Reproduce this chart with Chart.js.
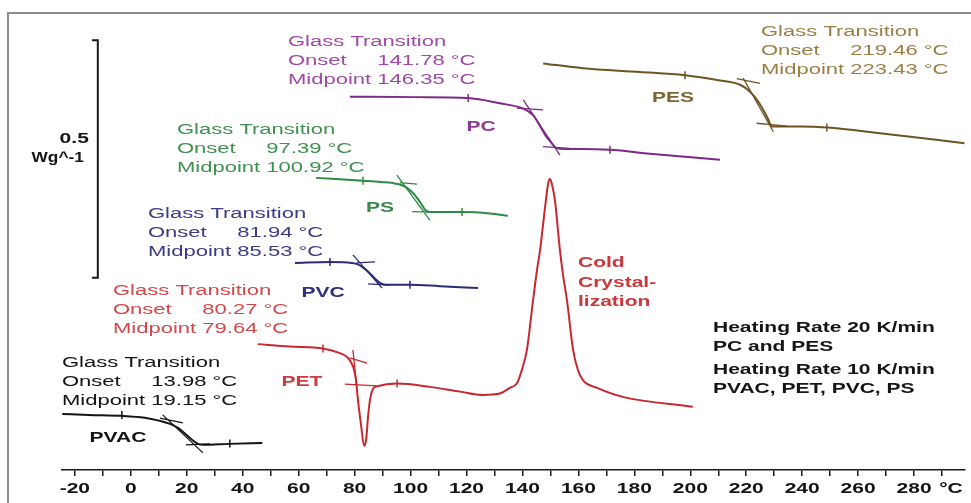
<!DOCTYPE html>
<html>
<head>
<meta charset="utf-8">
<script src="https://cdn.jsdelivr.net/npm/chart.js@4.4.1/dist/chart.umd.min.js"></script>
<style>
    html, body { margin: 0; padding: 0; background: #fff; }
    #dsc { display: block; }
</style>
</head>
<body>
<canvas id="dsc" width="971" height="503"></canvas>
<script>
// DSC heating curves, temperature in °C, heat flow in W/g (curves offset)
const tempTicks = [-20, 0, 20, 40, 60, 80, 100, 120, 140, 160, 180, 200, 220, 240, 260, 280];
const samples = ["PVAC", "PET", "PVC", "PS", "PC", "PES"];
const glassOnset = [13.98, 80.27, 81.94, 97.39, 141.78, 219.46];
const glassMidpoint = [19.15, 79.64, 85.53, 100.92, 146.35, 223.43];

const pvacTemp = [-24.5, -15, -3, 5, 10, 14, 17, 19.5, 22, 24, 26, 35, 47];
const pvacFlow = [0.118, 0.116, 0.114, 0.110, 0.104, 0.097, 0.088, 0.076, 0.063, 0.055, 0.053, 0.055, 0.057];

const petTemp = [45.4, 56.9, 68.7, 74.8, 77.3, 78.7, 79.8, 80.5, 81.2, 82.3, 83.4, 84.1, 84.8, 85.5, 86.6, 88.0,
    95.2, 106.9, 117.7, 125.9, 131.9, 135.5, 138.1, 139.8, 141.6, 143.8, 145.2, 146.3, 148.1, 149.1, 149.8,
    150.6, 151.6, 153.4, 154.5, 155.9, 158.1, 159.8, 161.6, 166.7, 175.9, 200.9];
const petFlow = [0.265, 0.260, 0.256, 0.246, 0.238, 0.227, 0.211, 0.189, 0.147, 0.095, 0.051, 0.063, 0.112, 0.147, 0.171, 0.176,
    0.182, 0.175, 0.165, 0.158, 0.161, 0.173, 0.183, 0.211, 0.253, 0.358, 0.421, 0.463, 0.554, 0.600, 0.613,
    0.600, 0.568, 0.463, 0.411, 0.358, 0.253, 0.211, 0.189, 0.173, 0.154, 0.133];

const pvcTemp = [58.7, 71.2, 79.0, 81.2, 83.3, 85.5, 87.6, 89.4, 91.5, 99.8, 110.5, 124.1];
const pvcFlow = [0.436, 0.438, 0.436, 0.433, 0.425, 0.414, 0.401, 0.393, 0.390, 0.390, 0.387, 0.383];

const psTemp = [66.2, 83.0, 93.7, 96.2, 98.7, 101.2, 103.4, 105.5, 107.6, 118.4, 128.4, 134.8];
const psFlow = [0.615, 0.609, 0.604, 0.601, 0.594, 0.581, 0.564, 0.546, 0.543, 0.543, 0.540, 0.535];

const pcTemp = [78.3, 102.2, 120.5, 131.9, 140.2, 143.8, 146.3, 148.4, 149.8, 152.2, 155.2, 161.6, 171.3, 185.6, 210.6];
const pcFlow = [0.786, 0.785, 0.783, 0.772, 0.761, 0.747, 0.724, 0.703, 0.693, 0.678, 0.676, 0.676, 0.674, 0.666, 0.653];

const pesTemp = [147.4, 161.6, 182.0, 198.1, 209.6, 217.8, 221.4, 223.9, 226.1, 227.8, 229.2, 231.0, 239.2, 248.9, 267.8, 298.0];
const pesFlow = [0.856, 0.846, 0.838, 0.831, 0.821, 0.811, 0.796, 0.779, 0.758, 0.739, 0.723, 0.723, 0.723, 0.721, 0.709, 0.688];

// tangent construction lines [t1, hf1, t2, hf2] and baseline markers [t, hf]
const pvacTangents = [[10.4, 0.109, 18.6, 0.099], [11.4, 0.116, 25.8, 0.036], [19.7, 0.053, 28.3, 0.055]];
const pvacMarks = [[-3.2, 0.116], [35.4, 0.056]];
const petTangents = [[78.3, 0.236, 84.4, 0.225], [79.4, 0.253, 80.7, 0.179], [76.5, 0.181, 88.0, 0.177]];
const petMarks = [[68.7, 0.256], [95.2, 0.182]];
const pvcTangents = [[80.7, 0.436, 87.3, 0.438], [79.4, 0.453, 89.8, 0.383], [84.8, 0.392, 92.6, 0.389]];
const pvcMarks = [[71.2, 0.438], [99.8, 0.390]];
const psTangents = [[96.2, 0.605, 102.3, 0.602], [95.1, 0.621, 106.9, 0.526], [100.5, 0.544, 108.0, 0.543]];
const psMarks = [[83.0, 0.609], [118.4, 0.543]];
const pcTangents = [[137.9, 0.762, 147.4, 0.758], [140.3, 0.779, 153.4, 0.663], [147.3, 0.681, 157.0, 0.677]];
const pcMarks = [[120.6, 0.783], [171.3, 0.674]];
const pesTangents = [[216.6, 0.824, 224.9, 0.814], [218.9, 0.825, 229.7, 0.712], [223.7, 0.730, 234.6, 0.724]];
const pesMarks = [[198.1, 0.831], [248.8, 0.721]];

// 0.5 W/g scale bar
const scaleBarTemp = -11.8;
const scaleBarBase = 0.405;
const scaleBarSpan = 0.5;

const FONT = '"Liberation Sans", Arial, sans-serif';
const SX = 1.42;

const lineColors = ["#141414", "#c8282f", "#2b2b78", "#2e8b45", "#7d2a86", "#6e5424"];
const textColors = ["#141414", "#d2474a", "#3b3b86", "#3f9150", "#a04aa6", "#9c7e45"];
const labelColors = ["#141414", "#cc3b3f", "#2f2f7e", "#3a8a4a", "#8a3a92", "#7d6432"];

// pixel layout of the text blocks
const blockPos = [
    { x: 62, y: 363 }, { x: 113, y: 291 }, { x: 148, y: 214 },
    { x: 177, y: 130 }, { x: 288, y: 42 }, { x: 761, y: 32 }
];
const labelPos = [
    { x: 118, y: 438 }, { x: 302, y: 382 }, { x: 323, y: 293 },
    { x: 380, y: 208 }, { x: 481, y: 127 }, { x: 673, y: 98 }
];

function curve(temps, flows, color) {
    return {
        data: temps.map((t, i) => ({ x: t, y: flows[i] })),
        borderColor: color,
        borderWidth: 2,
        pointRadius: 0,
        cubicInterpolationMode: "monotone",
        fill: false,
    };
}

function tangentLines(segs, color) {
    let data = [];
    segs.forEach((s) => {
        data.push({ x: s[0], y: s[1] }, { x: s[2], y: s[3] }, { x: s[2], y: null });
    });
    return { data: data, borderColor: color, borderWidth: 1.3, pointRadius: 0, tension: 0, spanGaps: false };
}

function markers(pts, color) {
    return {
        data: pts.map((p) => ({ x: p[0], y: p[1] })),
        showLine: false,
        pointStyle: "line",
        rotation: 90,
        pointRadius: 4,
        pointBorderWidth: 1.5,
        borderColor: color,
    };
}

const curves = [
    [pvacTemp, pvacFlow, pvacTangents, pvacMarks],
    [petTemp, petFlow, petTangents, petMarks],
    [pvcTemp, pvcFlow, pvcTangents, pvcMarks],
    [psTemp, psFlow, psTangents, psMarks],
    [pcTemp, pcFlow, pcTangents, pcMarks],
    [pesTemp, pesFlow, pesTangents, pesMarks],
];

let datasets = [];
curves.forEach((c, i) => {
    datasets.push(curve(c[0], c[1], lineColors[i]));
    datasets.push(tangentLines(c[2], lineColors[i]));
    datasets.push(markers(c[3], lineColors[i]));
});

datasets.push({
    data: [
        { x: scaleBarTemp - 2.1, y: scaleBarBase + scaleBarSpan },
        { x: scaleBarTemp, y: scaleBarBase + scaleBarSpan },
        { x: scaleBarTemp, y: scaleBarBase },
        { x: scaleBarTemp - 2.1, y: scaleBarBase },
    ],
    borderColor: "#1a1a1a",
    borderWidth: 2,
    pointRadius: 0,
    tension: 0,
});

function drawText(ctx, str, x, y, align, sx) {
    ctx.save();
    ctx.translate(x, y);
    ctx.scale(sx || SX, 1);
    ctx.textAlign = align;
    ctx.textBaseline = "middle";
    ctx.fillText(str, 0, 0);
    ctx.restore();
}

const annotate = {
    id: "annotate",
    beforeDraw(chart) {
        const ctx = chart.ctx;
        ctx.save();
        ctx.fillStyle = "#fff";
        ctx.fillRect(0, 0, chart.width, chart.height);
        // outer frame
        ctx.strokeStyle = "#8c8c8c";
        ctx.lineWidth = 2;
        ctx.beginPath();
        ctx.moveTo(8, chart.height);
        ctx.lineTo(8, 13);
        ctx.lineTo(chart.width, 13);
        ctx.stroke();
        ctx.restore();
    },
    afterDraw(chart) {
        const ctx = chart.ctx;
        const xs = chart.scales.x;
        const ys = chart.scales.y;

        ctx.save();
        ctx.fillStyle = "#151515";
        ctx.font = "bold 15px " + FONT;
        tempTicks.forEach((t) => drawText(ctx, String(t), xs.getPixelForValue(t), 489, "center", 1.4));
        drawText(ctx, "°C", 951, 489, "center", 1.4);

        // scale bar label
        const barX = xs.getPixelForValue(scaleBarTemp);
        const barMid = ys.getPixelForValue(scaleBarBase + scaleBarSpan / 2);
        drawText(ctx, "0.5", barX - 9, barMid - 20, "right", 1.4);
        drawText(ctx, "Wg^-1", barX - 14, barMid - 1, "right", 1.15);

        // glass transition readouts and sample names
        samples.forEach((s, i) => {
            const b = blockPos[i];
            ctx.fillStyle = textColors[i];
            ctx.font = "15.5px " + FONT;
            const valX = b.x + SX * ctx.measureText("Midpoint ").width;
            drawText(ctx, "Glass Transition", b.x, b.y, "left");
            drawText(ctx, "Onset", b.x, b.y + 19, "left");
            drawText(ctx, glassOnset[i].toFixed(2) + " °C", valX, b.y + 19, "left");
            drawText(ctx, "Midpoint " + glassMidpoint[i].toFixed(2) + " °C", b.x, b.y + 38, "left");

            ctx.fillStyle = labelColors[i];
            ctx.font = "bold 15px " + FONT;
            drawText(ctx, s, labelPos[i].x, labelPos[i].y, "center", 1.4);
        });

        ctx.fillStyle = "#c8383c";
        ctx.font = "bold 15px " + FONT;
        ["Cold", "Crystal-", "lization"].forEach((t, i) => drawText(ctx, t, 578, 263 + i * 19.5, "left", 1.4));

        ctx.fillStyle = "#151515";
        drawText(ctx, "Heating Rate 20 K/min", 713, 328, "left", 1.4);
        drawText(ctx, "PC and PES", 713, 347, "left", 1.4);
        drawText(ctx, "Heating Rate 10 K/min", 713, 370, "left", 1.4);
        drawText(ctx, "PVAC, PET, PVC, PS", 713, 389, "left", 1.4);
        ctx.restore();
    },
};

new Chart(document.getElementById("dsc"), {
    type: "line",
    data: { datasets: datasets },
    options: {
        responsive: false,
        animation: false,
        devicePixelRatio: 1,
        parsing: false,
        layout: { padding: { left: 62, right: 6, top: 14, bottom: 0 } },
        plugins: { legend: { display: false }, tooltip: { enabled: false } },
        scales: {
            x: {
                type: "linear",
                min: -24.6,
                max: 298.2,
                afterFit: function (scale) {
                    scale.height = 33;
                },
                border: { display: true, color: "#1a1a1a", width: 1.6 },
                grid: { drawOnChartArea: false, drawTicks: true, tickLength: 6, color: "#1a1a1a", lineWidth: 1.5 },
                ticks: { stepSize: 10, includeBounds: false, display: false },
            },
            y: {
                type: "linear",
                display: false,
                min: 0,
                max: 0.96,
            },
        },
    },
    plugins: [annotate],
});
</script>
</body>
</html>
